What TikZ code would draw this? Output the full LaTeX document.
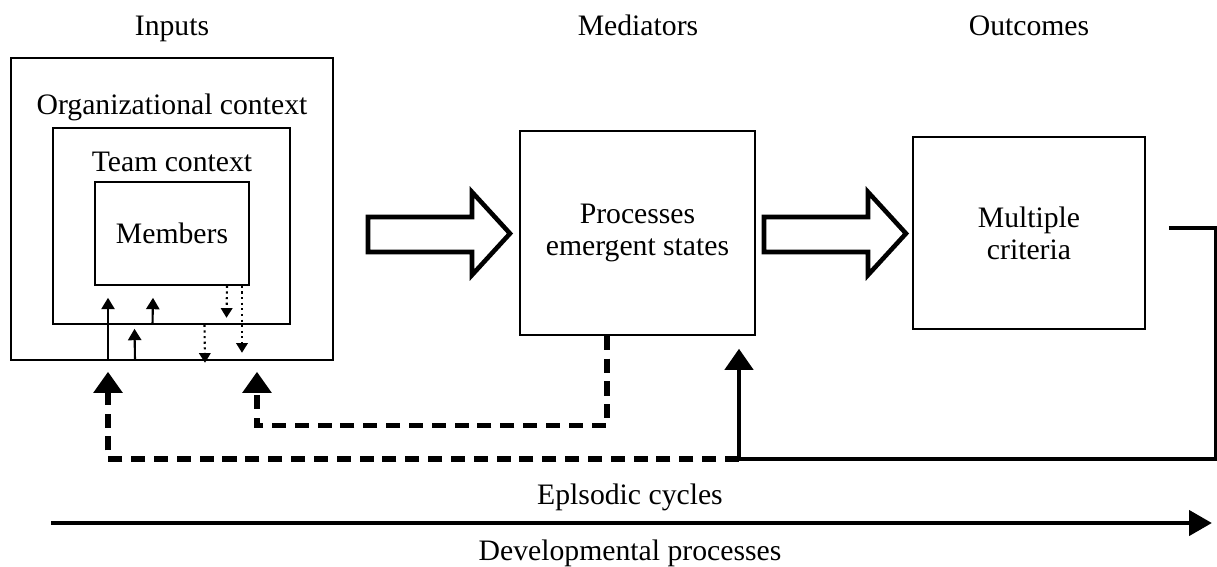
\documentclass[tikz,border=0pt]{standalone}
\usepackage{fontspec}
\setmainfont{Liberation Serif}
\usetikzlibrary{arrows.meta,positioning}

\begin{document}
\begin{tikzpicture}[>=Stealth, x=0.02cm, y=-0.02cm,
    every node/.style={font=\fontsize{16.9}{18.2}\selectfont},
    title/.style={anchor=base},
    box/.style={draw, line width=0.9pt, inner sep=0pt, align=center},
    upsmall/.style={line width=1.2pt, -{Triangle[width=7.5pt,length=6.5pt]}},
    downdot/.style={line width=1.2pt, dotted, -{Triangle[width=6.5pt,length=5.5pt]}},
    fbdash/.style={line width=3pt, dash pattern=on 8pt off 5pt, -{Triangle[width=16pt,length=12pt]}},
    fbsolid/.style={line width=2.4pt, -{Triangle[width=16pt,length=12pt]}}]

\useasboundingbox (0,0) rectangle (1217,566);

% Macro: hollow block arrow starting at x = #1
\newcommand{\blockarrow}[1]{
    \draw[line width=2.6pt, miter limit=10]
        (#1,217) -- ++(104,0) -- ++(0,-25) -- ++(38,41.5)
        -- ++(-38,41.5) -- ++(0,-23) -- ++(-104,0) -- cycle;
}

% Column titles
\node[title] (tin) at (172,35) {Inputs};
\node[title] (tmed) at (638,35) {Mediators};
\node[title] (tout) at (1029,35) {Outcomes};

% Nested input boxes
\node[box, minimum width=6.44cm, minimum height=6.04cm] (org) at (172,209) {};
\node[box, minimum width=4.74cm, minimum height=3.92cm] (team) at (171.5,226) {};
\node[box, minimum width=3.08cm, minimum height=2.06cm] (mem) at (172,233.5) {Members};
\node (orgtxt) at (172,107) {Organizational context};
\node (teamtxt) at (172,162) {Team context};

% Mediators and outcomes
\node[box, minimum width=4.7cm, minimum height=4.08cm] (med) at (637.5,233) {Processes\\emergent states};
\node[box, minimum width=4.64cm, minimum height=3.84cm] (out) at (1029,233) {Multiple\\criteria};

\blockarrow{368}
\blockarrow{764}

% Links between the levels
\foreach \dx/\from/\to/\dy in {-1.28/org/mem/-0.24, -0.38/team/mem/-0.24, -0.74/org/team/-0.08}
    \draw[upsmall] ([xshift=\dx cm]\from.south) -- ([xshift=\dx cm, yshift=\dy cm]\to.south);
\foreach \dx/\from/\to/\dy in {1.1/mem/team/0.14, 1.4/mem/org/0.16, 0.66/team/org/-0.04}
    \draw[downdot] ([xshift=\dx cm]\from.south) -- ([xshift=\dx cm, yshift=\dy cm]\to.south);

% Feedback loops
\coordinate (inA) at ([xshift=-1.28cm, yshift=-0.22cm]org.south);
\coordinate (inB) at ([xshift=1.7cm, yshift=-0.22cm]org.south);
\coordinate (medtip) at ([yshift=-0.26cm]med.south);
\coordinate (joint) at (739,459);

\draw[fbdash] ([xshift=-0.61cm]med.south) -- ++(0,90) -| (inB);
\draw[fbsolid] ([xshift=0.46cm, yshift=0.1cm]out.east) -- ++(47,0) |- (joint) -- (joint |- medtip);
\draw[fbdash] (joint) -| (inA);

% Time line
\coordinate (tstart) at (51,523);
\coordinate (tend) at (1212,523);
\draw[line width=2.8pt, -{Triangle[width=14pt,length=13pt]}] (tstart) -- (tend);
\node (epi) at (630,497) {Eplsodic cycles};
\node (dev) at (630,553) {Developmental processes};

\end{tikzpicture}
\end{document}
